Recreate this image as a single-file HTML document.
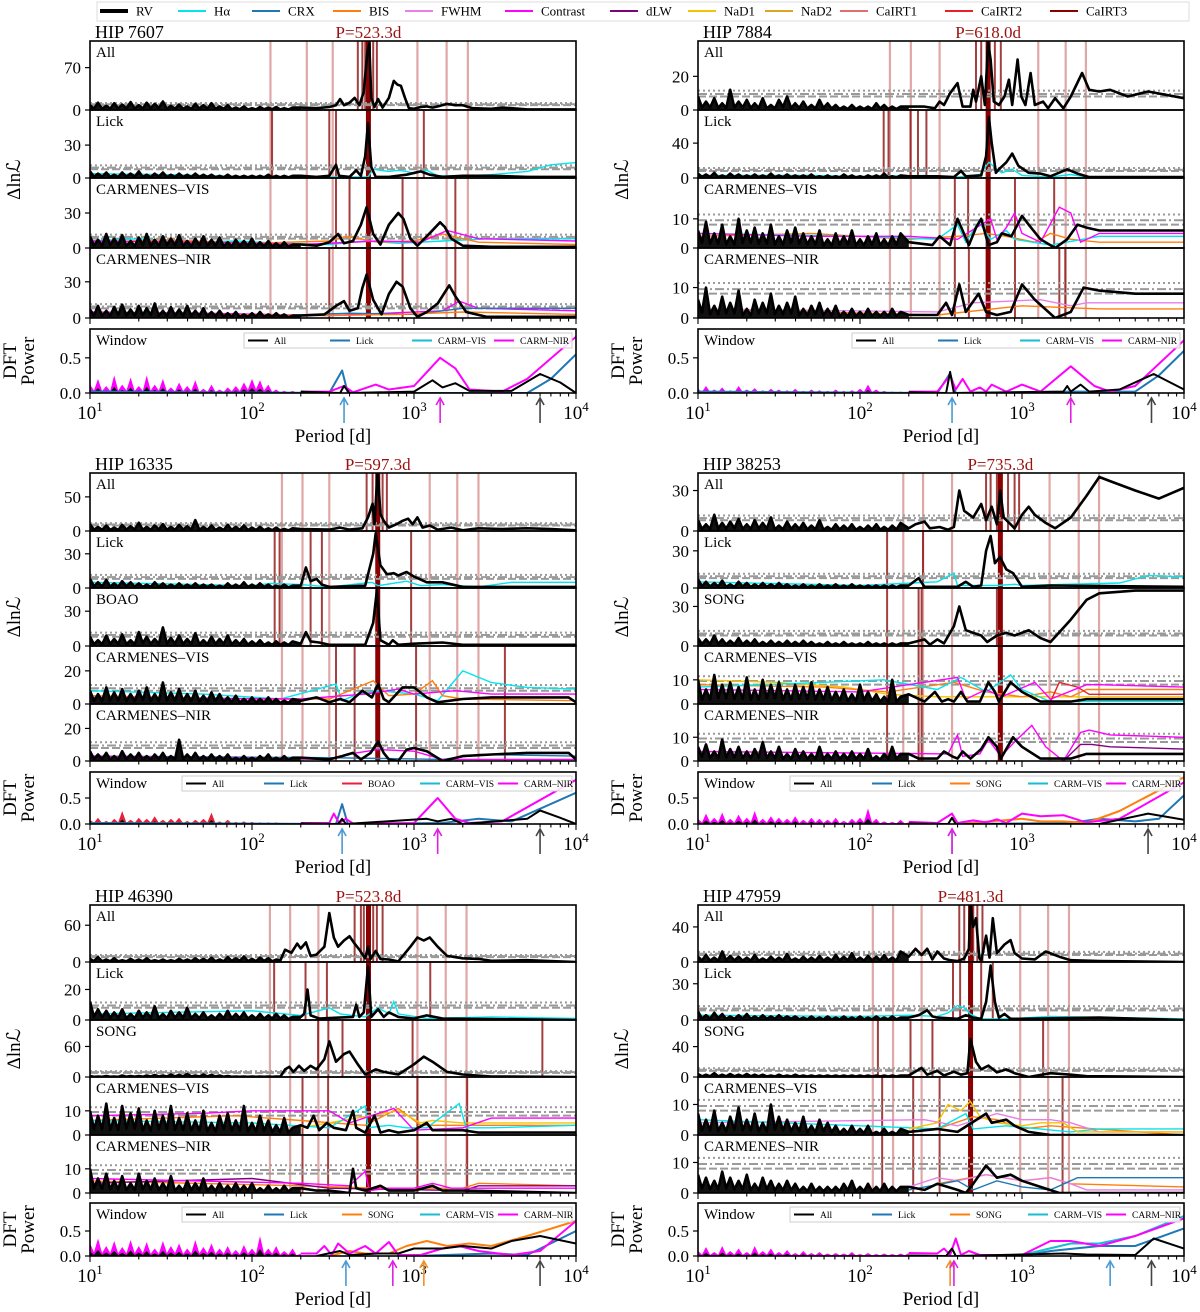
<!DOCTYPE html>
<html><head><meta charset="utf-8">
<style>
html,body{margin:0;padding:0;background:#fff;}
svg{display:block;font-family:"Liberation Serif",serif;}
</style></head>
<body>
<svg id="fig" xmlns="http://www.w3.org/2000/svg" width="1200" height="1312" viewBox="0 0 1200 1312">
<g id="legend"></g>
<g id="plots"></g>
</svg>
<script>
// ---------- shared noise period grid (days) ----------
const noiseGrid = [10,11.2,12.6,14.1,15.8,17.8,20,22.4,25.1,28.2,31.6,35.5,39.8,44.7,50.1,56.2,63.1,70.8,79.4,89.1,100,112,126,141,158,178,200];

// ---------- HIP 7607 ----------
const light7607 = [130,218,315,1050,1590,2150];
const n7607_all = [8,12,7,11,9,13,8,12,10,14,7,9,6,10,8,11,6,8,4,6,3,5,4,5,3,4,4];
const r7607_all = [[200,4],[250,3],[300,5],[330,8],[350,18],[370,8],[400,12],[430,20],[460,8],[490,30],[515,95],[530,110],[545,20],[570,5],[600,18],[640,4],[700,20],[750,48],[790,42],[830,40],[880,20],[930,3],[1000,2],[1100,5],[1200,6],[1300,4],[1450,7],[1600,10],[1800,8],[2000,8],[2300,3],[3000,2],[3500,4],[4000,3],[5000,1],[10000,1]];
const d7607_all = [450,480,500,560,590];
const n7607_lick = [6,4,5,3,5,4,6,3,4,5,3,4,3,4,3,3,2,3,2,2,2,2,3,2,2,2,2];
const r7607_lick = [[200,2],[250,1],[300,2],[330,12],[345,2],[400,1],[440,7],[470,2],[500,20],[520,50],[545,10],[580,1],[700,1],[900,3],[1100,6],[1250,3],[1500,1],[2000,2],[3000,2],[5000,1],[10000,1]];
const c7607_lick_ha = [[10,4],[30,3],[60,2],[100,1],[200,1],[400,1],[520,1],[560,8],[620,7],[700,6],[800,7],[900,6],[1000,4],[1200,7],[1400,2],[2000,2],[3000,3],[5000,6],[7000,12],[10000,14]];
const d7607_lick = [133,300,330,1150];
const n7607_cv = [10,7,12,8,11,6,9,12,7,10,8,11,6,8,10,7,9,5,7,6,8,5,6,4,5,3,4];
const r7607_cv = [[200,3],[250,2],[300,5],[340,12],[370,4],[420,6],[470,20],[510,35],[560,12],[620,3],[700,20],[800,30],[860,25],[950,8],[1050,2],[1200,10],[1450,22],[1550,18],[1700,8],[2000,2],[3000,1],[10000,1]];
const c7607_cv_ha = [[10,6],[20,8],[40,5],[80,6],[150,4],[300,3],[500,6],[800,4],[1500,6],[3000,8],[10000,8]];
const c7607_cv_bis = [[10,5],[30,7],[100,4],[300,6],[380,10],[600,5],[1000,6],[1500,12],[2500,5],[10000,3]];
const c7607_cv_con = [[10,6],[50,5],[200,3],[600,6],[1100,5],[1600,15],[2500,8],[10000,6]];
const d7607_cv = [330,400,850,1800];
const n7607_cn = [7,10,6,9,11,7,10,8,12,6,9,7,10,6,8,5,6,4,5,3,4,5,3,4,3,2,3];
const r7607_cn = [[200,2],[280,3],[330,10],[370,14],[400,6],[450,8],[480,25],[510,36],[560,15],[630,3],[700,20],[780,30],[850,26],[950,8],[1050,1],[1200,5],[1400,12],[1650,27],[1800,18],[2100,5],[2800,1],[10000,1]];
const c7607_cn_con = [[10,5],[50,4],[300,2],[1500,6],[1900,14],[2500,8],[10000,6]];
const c7607_cn_crx = [[10,3],[40,3],[150,2],[400,4],[1000,3],[2000,8],[10000,8]];
const c7607_cn_bis = [[10,4],[60,3],[300,2],[800,3],[2000,5],[10000,3]];
const d7607_cn = [300,400,850,1800];
const w7607_noise = [0.12,0.2,0.1,0.25,0.12,0.22,0.1,0.25,0.12,0.2,0.08,0.15,0.1,0.18,0.06,0.12,0.05,0.08,0.1,0.15,0.2,0.18,0.12,0.05,0.03,0.03,0.02];
const w7607_nir = [[200,0.02],[300,0.02],[370,0.1],[420,0.01],[580,0.12],[700,0.05],[1000,0.1],[1450,0.5],[1800,0.35],[2200,0.05],[3500,0.02],[5000,0.2],[10000,0.8]];
const w7607_lick = [[10,0.02],[300,0],[360,0.32],[390,0],[5000,0],[7000,0.2],[10000,0.55]];
const w7607_all = [[200,0.02],[350,0],[370,0.1],[400,0],[1000,0.02],[1300,0.18],[1500,0.08],[1800,0.14],[2200,0.03],[4000,0.03],[6000,0.27],[8000,0.15],[10000,0]];
const arrows7607 = [[370,'lick'],[1450,'nir'],[6000,'all']];

// ---------- HIP 7884 ----------
const light7884 = [153,206,310,1260,1860,2480];
const n7884_all = [8,5,7,4,12,5,6,4,7,3,6,8,4,5,3,6,4,3,2,3,2,2,4,3,2,2,1];
const r7884_all = [[200,2],[250,2],[290,1],[310,5],[330,3],[360,10],[400,16],[430,2],[480,2],[500,12],[520,5],[560,20],[590,3],[618,40],[640,30],[670,5],[720,3],[780,8],[830,18],[870,3],[940,30],[990,8],[1050,3],[1130,22],[1200,3],[1350,5],[1450,1],[1600,7],[1800,1],[2000,8],[2350,22],[2600,12],[3000,11],[3500,12],[4500,8],[6000,11],[10000,7]];
const d7884_all = [520,560,680,740];
const n7884_lick = [5,4,6,3,5,4,3,4,3,5,3,4,3,3,4,2,3,2,4,3,2,3,3,5,2,3,2];
const r7884_lick = [[200,2],[300,2],[380,1],[420,8],[450,2],[560,3],[600,25],[625,70],[650,40],[690,6],[720,10],[800,18],[870,28],[950,14],[1100,6],[1300,5],[1500,2],[1900,10],[2200,5],[2600,1],[10000,1]];
const c7884_lick_ha = [[10,3],[50,3],[100,2],[250,3],[400,1],[550,4],[625,18],[680,12],[750,6],[870,10],[1000,3],[1500,1],[2000,4],[2500,1],[10000,1]];
const d7884_lick = [140,150,205,228,257];
const n7884_cv = [6,9,5,8,4,10,6,7,5,8,4,6,7,5,4,6,3,5,4,6,3,4,5,3,4,5,3];
const r7884_cv = [[200,2],[280,1],[310,4],[360,1],[400,10],[430,6],[470,1],[520,7],[560,10],[620,1],[700,2],[750,5],[860,4],[1000,11],[1100,8],[1300,3],[1600,0],[1900,3],[2200,8],[2500,7],[3000,6],[10000,6]];
const c7884_cv_con = [[10,5],[50,4],[200,4],[400,3],[640,10],[700,3],[800,7],[900,12],[1000,5],[1300,2],[1700,14],[2000,12],[2300,2],[3000,5],[10000,5]];
const c7884_cv_ha = [[10,5],[100,4],[300,3],[400,8],[450,2],[540,9],[640,3],[800,6],[900,3],[1500,1],[3000,4],[10000,4]];
const c7884_cv_bis = [[10,4],[50,5],[200,3],[400,4],[600,5],[800,4],[1200,2],[1500,5],[2000,3],[3000,2],[10000,2]];
const d7884_cv = [385,465,905,1580];
const n7884_cn = [6,10,4,7,5,9,3,6,5,8,4,5,7,3,4,5,3,4,2,3,2,3,2,2,3,2,2];
const r7884_cn = [[200,1],[300,1],[340,5],[370,1],[410,11],[450,2],[540,8],[600,2],[700,1],[850,2],[1000,11],[1200,6],[1600,0],[2000,2],[2400,10],[3000,9],[5000,8],[10000,8]];
const c7884_cn_fwhm = [[10,3],[300,2],[500,5],[1300,6],[2000,4],[2500,5],[10000,5]];
const c7884_cn_bis = [[10,3],[300,1],[1000,4],[3000,3],[10000,3]];
const d7884_cn = [385,470,905,1700,1850];
const w7884_noise = [0.06,0.1,0.05,0.08,0.04,0.1,0.05,0.07,0.04,0.06,0.05,0.04,0.06,0.03,0.05,0.04,0.03,0.05,0.03,0.04,0.06,0.12,0.05,0.03,0.02,0.02,0.02];
const w7884_nir = [[200,0.02],[300,0.02],[360,0.25],[390,0.05],[430,0.2],[480,0.02],[550,0.08],[600,0.02],[650,0.12],[800,0.02],[1000,0.12],[1300,0.02],[2000,0.38],[2800,0.1],[3500,0.02],[5000,0.1],[10000,0.75]];
const w7884_lick = [[10,0.02],[300,0],[360,0.28],[390,0],[2000,0.02],[5000,0.02],[7000,0.25],[10000,0.6]];
const w7884_all = [[200,0.01],[340,0],[360,0.3],[380,0],[1800,0.02],[1900,0.1],[2000,0.02],[2300,0.12],[2600,0.02],[4000,0.05],[6500,0.27],[10000,0.05]];
const arrows7884 = [[370,'lick'],[2000,'nir'],[6300,'all']];

// ---------- HIP 16335 ----------
const light16335 = [153,205,300,1250,1850,2500];
const n16335_all = [10,6,8,5,9,7,12,6,8,10,6,9,7,16,6,8,5,9,6,8,5,6,4,5,3,4,3];
const r16335_all = [[200,3],[300,2],[350,5],[400,2],[480,4],[520,20],[555,40],[570,10],[597,90],[620,25],[650,15],[700,5],[780,10],[850,15],[920,18],[980,10],[1050,20],[1130,5],[1250,8],[1400,2],[1700,5],[2000,1],[2500,4],[3500,3],[5000,4],[7000,3],[10000,1]];
const d16335_all = [510,555,640,680];
const n16335_lick = [8,5,7,4,6,5,4,3,5,4,3,4,3,4,3,3,2,4,3,5,3,4,3,2,3,2,2];
const r16335_lick = [[200,2],[215,18],[230,6],[250,8],[270,3],[300,1],[500,2],[560,30],[580,48],[620,20],[680,12],[750,13],[800,11],[900,14],[1000,10],[1200,5],[1500,5],[2000,1],[10000,1]];
const c16335_lick_ha = [[10,5],[100,2],[130,4],[200,3],[300,1],[550,5],[600,2],[900,6],[1100,2],[1500,3],[2500,1],[4000,5],[10000,5]];
const d16335_lick = [138,148,230,270,960];
const n16335_boao = [8,5,9,6,10,5,12,8,6,16,7,9,6,11,5,8,6,9,5,6,4,5,3,4,3,4,2];
const r16335_boao = [[200,2],[215,12],[230,4],[260,3],[300,1],[500,1],[560,20],[590,48],[620,5],[700,1],[740,5],[800,1],[1000,2],[1500,3],[2000,1],[10000,1]];
const d16335_boao = [138,148,230,270,960];
const n16335_cv = [8,6,10,7,9,6,8,10,6,13,7,9,6,8,5,7,6,4,5,3,4,3,4,3,2,3,2];
const r16335_cv = [[200,2],[250,4],[300,1],[350,3],[400,1],[480,8],[550,4],[600,12],[650,3],[700,1],[850,10],[1000,10],[1200,4],[1400,1],[2000,3],[3000,4],[5000,4],[9000,4],[10000,1]];
const c16335_cv_ha = [[10,8],[50,6],[150,3],[330,12],[360,2],[450,6],[600,8],[1000,6],[1400,2],[2000,20],[3000,13],[5000,10],[10000,9]];
const c16335_cv_bis = [[10,5],[100,3],[300,3],[560,14],[700,5],[1000,6],[1300,14],[1500,5],[2000,3],[10000,2]];
const c16335_cv_con = [[10,4],[200,3],[500,6],[800,9],[1000,6],[1800,8],[3000,6],[10000,6]];
const d16335_cv = [330,430,1030,3640];
const n16335_cn = [6,4,5,3,6,4,5,3,4,5,3,13,4,5,3,4,3,4,2,3,2,3,4,2,3,2,2];
const r16335_cn = [[200,2],[300,1],[360,3],[420,5],[470,1],[540,5],[600,12],[650,5],[700,1],[800,0],[900,7],[1000,8],[1200,6],[1500,0],[2000,3],[3000,4],[5000,5],[9000,5],[10000,1]];
const c16335_cn_con = [[10,3],[300,1],[380,4],[600,7],[1000,6],[1500,1],[10000,1]];
const c16335_cn_crx = [[10,3],[300,2],[1500,1],[2500,4],[10000,3]];
const d16335_cn = [330,430,1030,3640];
const w16335_noise = [0.08,0.12,0.06,0.1,0.25,0.08,0.12,0.1,0.15,0.08,0.1,0.12,0.06,0.08,0.1,0.22,0.05,0.08,0.04,0.05,0.04,0.03,0.03,0.03,0.02,0.02,0.02];
const w16335_nir = [[200,0.02],[300,0.02],[320,0.2],[345,0.02],[380,0.1],[420,0.01],[1000,0.02],[1400,0.5],[1800,0.1],[2200,0.02],[3500,0.05],[10000,0.85]];
const w16335_lick = [[10,0.02],[330,0],[360,0.38],[390,0],[1500,0.02],[2500,0.1],[4000,0.05],[10000,0.6]];
const w16335_all = [[200,0.01],[340,0],[360,0.1],[380,0],[1200,0.1],[1400,0.05],[1700,0.1],[2000,0],[5000,0.1],[6000,0.26],[8000,0.12],[10000,0]];
const arrows16335 = [[360,'lick'],[1400,'nir'],[6000,'all']];

// ---------- HIP 38253 ----------
const light38253 = [185,245,370,1480,2240,2990];
const n38253_all = [8,5,12,6,7,9,5,8,6,10,4,7,5,6,4,8,3,5,4,5,3,4,5,3,4,6,3];
const r38253_all = [[200,2],[220,5],[250,7],[270,2],[310,3],[350,1],[380,3],[410,30],[440,15],[500,10],[560,20],[600,8],[650,18],[700,5],[735,30],[770,10],[850,5],[900,2],[1000,12],[1100,18],[1200,12],[1400,6],[1600,2],[2000,10],[2500,26],[3000,40],[3500,37],[5000,30],[7000,24],[10000,32]];
const d38253_all = [600,640,700,820,900,960];
const n38253_lick = [7,5,4,6,3,5,4,3,4,3,4,3,2,3,2,3,2,3,2,3,2,2,2,2,2,2,2];
const r38253_lick = [[200,2],[230,8],[250,1],[300,1],[400,1],[450,5],[500,1],[560,2],[600,30],[640,42],[680,20],[730,25],[800,15],[880,12],[1000,1],[1500,2],[10000,1]];
const c38253_lick_ha = [[10,5],[100,2],[300,5],[380,12],[400,2],[700,2],[900,3],[1000,2],[4000,4],[6000,10],[10000,9]];
const d38253_lick = [147,245];
const n38253_song = [6,5,8,5,4,6,4,5,3,4,3,4,3,4,3,2,3,2,3,2,2,3,2,2,2,2,2];
const r38253_song = [[200,2],[250,5],[270,1],[300,5],[330,2],[380,15],[410,30],[450,12],[500,10],[560,8],[610,3],[700,8],[800,10],[900,8],[1100,12],[1300,6],[1500,3],[2000,20],[2500,35],[3000,40],[5000,42],[10000,42]];
const d38253_song = [147,230,240,700];
const n38253_cv = [10,6,12,8,9,7,11,6,10,8,9,6,8,7,9,6,7,5,6,4,8,5,4,3,10,3,2];
const r38253_cv = [[200,4],[250,1],[290,5],[320,1],[350,2],[380,1],[420,5],[460,1],[550,1],[620,9],[680,5],[720,1],[850,9],[1000,5],[1300,1],[2000,1],[2500,2],[3000,2],[10000,2]];
const c38253_cv_con = [[10,6],[100,5],[400,11],[450,2],[600,6],[750,3],[950,6],[1200,9],[1500,2],[2500,8],[3000,8],[10000,7]];
const c38253_cv_ha = [[10,7],[60,9],[140,10],[300,6],[420,11],[600,5],[850,12],[1000,6],[1500,1],[10000,1]];
const c38253_cv_bis = [[10,8],[60,7],[150,5],[380,9],[600,5],[1000,3],[1500,5],[2000,3],[2500,6],[10000,6]];
const c38253_cv_nad1 = [[10,10],[30,9],[80,7],[150,4],[300,3],[10000,3]];
const c38253_cv_irt2 = [[1500,1],[1700,9],[2200,7],[2600,4],[10000,4]];
const d38253_cv = [147,230,240,720];
const n38253_cn = [6,7,4,9,5,6,4,5,8,4,6,3,5,4,3,6,3,4,3,4,3,5,2,3,6,3,2];
const r38253_cn = [[200,3],[230,1],[300,1],[330,4],[370,2],[400,1],[430,4],[480,1],[560,5],[620,10],[700,6],[740,1],[880,10],[1000,6],[1300,1],[2000,1],[2500,3],[10000,3]];
const c38253_cn_con = [[10,4],[350,3],[400,11],[430,2],[550,3],[620,9],[740,2],[900,8],[1150,15],[1400,6],[1800,0],[2300,12],[2600,13],[3500,11],[10000,10]];
const c38253_cn_dlw = [[1800,0],[2300,7],[2700,7],[3500,6],[10000,5]];
const d38253_cn = [147,230,240,720];
const w38253_noise = [0.1,0.2,0.12,0.22,0.1,0.18,0.12,0.25,0.1,0.15,0.12,0.1,0.15,0.08,0.12,0.1,0.08,0.12,0.06,0.1,0.12,0.3,0.1,0.05,0.04,0.08,0.03];
const w38253_nir = [[200,0.04],[300,0.02],[370,0.2],[400,0.02],[500,0.07],[600,0.03],[700,0.09],[800,0.02],[1000,0.2],[1300,0.15],[1800,0.17],[2500,0.03],[4000,0.1],[10000,0.8]];
const w38253_song = [[400,0],[1000,0.1],[1300,0.05],[1800,0.05],[2500,0.02],[4000,0.25],[10000,0.9]];
const w38253_lick = [[400,0],[2000,0.02],[3000,0.1],[5000,0.05],[7000,0.1],[10000,0.55]];
const w38253_all = [[200,0.01],[350,0],[370,0.12],[390,0],[3000,0],[6000,0.2],[10000,0.08]];
const arrows38253 = [[370,'lick'],[370,'nir'],[6000,'all']];

// ---------- HIP 46390 ----------
const light46390 = [129,172,257,1050,1570,2110];
const n46390_all = [5,8,4,6,3,5,4,6,3,4,3,5,4,6,5,7,4,8,6,9,5,7,6,4,5,3,3];
const r46390_all = [[150,3],[160,20],[175,15],[190,30],[200,22],[215,32],[230,10],[250,12],[280,25],[300,80],[320,40],[340,25],[370,35],[400,42],[430,30],[460,20],[500,6],[520,25],[540,5],[580,18],[620,5],[700,4],[800,1],[950,25],[1050,40],[1150,35],[1250,40],[1400,25],[1600,10],[2000,6],[2500,5],[3000,2],[5000,3],[10000,0]];
const d46390_all = [430,470,490,560,590,640];
const n46390_lick = [12,7,6,5,7,4,6,5,9,4,6,5,8,4,5,3,4,6,4,5,3,4,3,4,3,2,2];
const r46390_lick = [[200,2],[210,4],[220,20],[230,3],[260,1],[420,2],[440,10],[460,2],[490,5],[520,35],[545,2],[600,7],[650,2],[700,5],[800,2],[1000,1],[1200,3],[1500,1],[10000,0]];
const c46390_lick_ha = [[10,4],[100,6],[200,3],[300,8],[350,4],[500,2],[600,8],[700,4],[750,12],[800,4],[1200,1],[3000,2],[10000,1]];
const d46390_lick = [137,214,290,1260];
const n46390_song = [2,1,2,1,3,2,2,3,4,3,5,4,6,3,5,4,3,2,1,1,1,1,1,1,1,1,1];
const r46390_song = [[150,1],[160,15],[170,20],[180,10],[195,22],[210,12],[230,22],[250,15],[280,35],[300,70],[330,30],[370,45],[400,50],[450,25],[500,5],[580,15],[650,10],[800,5],[1000,25],[1150,40],[1300,30],[1600,10],[2000,5],[3000,1],[10000,0]];
const d46390_song = [256,296,362,980,6200];
const n46390_cv = [10,8,13,7,12,9,11,6,10,8,12,7,9,6,10,5,8,9,6,12,5,8,6,4,7,3,5];
const r46390_cv = [[200,4],[220,3],[240,8],[260,2],[290,5],[320,3],[380,2],[420,10],[440,3],[500,1],[570,8],[620,1],[700,2],[800,1],[1000,2],[1200,5],[1300,2],[1500,2],[2000,2],[2500,1],[10000,1]];
const c46390_cv_ha = [[10,6],[100,5],[300,3],[500,12],[520,3],[700,4],[900,3],[1200,3],[1900,13],[2100,3],[3000,3],[10000,4]];
const c46390_cv_con = [[10,8],[50,9],[100,10],[300,10],[400,5],[750,11],[1000,2],[2000,3],[3000,7],[10000,7]];
const c46390_cv_nad1 = [[200,3],[800,10],[1100,5],[1300,6],[2000,5],[3000,5],[10000,5]];
const c46390_cv_bis = [[10,6],[80,8],[200,6],[500,4],[800,11],[1100,4],[10000,4]];
const d46390_cv = [205,295,1050,2130];
const n46390_cn = [10,6,8,5,7,4,8,5,6,4,7,3,5,4,6,3,4,3,4,3,4,2,3,2,3,2,2];
const r46390_cn = [[200,2],[250,1],[300,1],[400,0],[420,10],[440,2],[500,1],[620,3],[700,1],[1000,1],[1300,3],[1500,1],[2000,1],[10000,0]];
const c46390_cn_con = [[10,6],[200,4],[400,3],[500,9],[530,1],[700,2],[1000,2],[1300,4],[1700,2],[10000,2]];
const c46390_cn_bis = [[10,5],[200,3],[600,2],[1000,2],[2000,2],[2500,4],[10000,3]];
const c46390_cn_dlw = [[10,4],[100,6],[300,2],[2000,1],[2500,3],[10000,3]];
const d46390_cn = [205,295,1050,2130];
const w46390_noise = [0.25,0.35,0.2,0.3,0.18,0.32,0.2,0.28,0.15,0.3,0.2,0.25,0.15,0.32,0.18,0.25,0.15,0.2,0.12,0.22,0.15,0.4,0.15,0.2,0.1,0.15,0.05];
const w46390_nir = [[200,0.05],[250,0.05],[280,0.2],[310,0.02],[340,0.25],[400,0.05],[500,0.2],[580,0.05],[700,0.28],[800,0.02],[1100,0.02],[1500,0.15],[1900,0.2],[2500,0.1],[4000,0.02],[6000,0.1],[10000,0.7]];
const w46390_song = [[300,0],[400,0.1],[500,0.05],[700,0.05],[900,0.2],[1200,0.3],[1600,0.2],[2200,0.25],[3000,0.2],[5000,0.4],[10000,0.7]];
const w46390_lick = [[1000,0],[3000,0.05],[5000,0.02],[10000,0.5]];
const w46390_all = [[250,0],[350,0.1],[400,0.02],[600,0.05],[800,0.05],[1000,0.15],[1500,0.15],[2000,0.2],[3000,0.15],[4000,0.3],[6000,0.4],[10000,0.25]];
const arrows46390 = [[380,'lick'],[740,'nir'],[1150,'song'],[6000,'all']];

// ---------- HIP 47959 ----------
const light47959 = [120,160,240,975,1450,1950];
const n47959_all = [6,8,5,12,7,6,5,8,4,6,5,9,4,6,5,7,5,8,6,10,5,7,6,8,5,12,7];
const r47959_all = [[200,6],[220,15],[240,8],[260,15],[280,3],[300,12],[330,4],[360,2],[400,1],[440,4],[470,15],[481,65],[500,40],[520,50],[545,5],[560,1],[600,30],[630,5],[660,50],[700,10],[780,20],[850,25],[900,10],[1000,4],[1200,3],[1400,12],[1700,6],[2000,2],[3000,1],[10000,0]];
const d47959_all = [410,440,500,530,570];
const n47959_lick = [7,4,6,5,3,4,5,3,4,3,4,3,3,2,3,2,3,2,3,2,3,2,3,2,3,2,2];
const r47959_lick = [[200,2],[230,4],[260,8],[280,3],[300,2],[400,1],[450,4],[500,2],[560,1],[600,15],[640,45],[680,15],[720,2],[780,5],[850,1],[1000,1],[3000,2],[10000,0]];
const c47959_lick_ha = [[10,4],[100,3],[200,4],[300,3],[350,6],[400,12],[440,10],[480,5],[550,1],[800,1],[1500,3],[10000,1]];
const d47959_lick = [375,415,560,660];
const n47959_song = [4,3,5,3,4,3,4,3,3,2,3,2,3,2,2,2,2,2,2,2,2,2,2,2,2,2,3];
const r47959_song = [[200,2],[240,12],[260,3],[300,8],[330,2],[380,7],[420,3],[460,5],[480,50],[520,20],[560,10],[620,15],[700,6],[800,10],[900,5],[1100,0],[1500,5],[2000,3],[2500,1],[10000,0]];
const d47959_song = [129,205,280,1350];
const n47959_cv = [7,5,8,4,6,9,5,7,4,10,6,5,4,6,3,5,4,3,2,3,2,3,1,2,1,2,2];
const r47959_cv = [[200,1],[300,2],[400,1],[600,7],[650,4],[800,5],[900,3],[1100,1],[1500,0],[10000,0]];
const c47959_cv_nad1 = [[200,2],[300,4],[350,10],[420,8],[480,11],[550,6],[700,4],[1000,3],[1300,4],[1800,4],[2200,1],[10000,1]];
const c47959_cv_ha = [[10,5],[100,3],[300,2],[450,7],[500,2],[800,3],[2000,1],[3000,2],[10000,2]];
const c47959_cv_fwhm = [[10,4],[250,5],[400,3],[700,7],[1000,5],[1500,5],[2000,4],[3000,1],[10000,1]];
const c47959_cv_bis = [[300,2],[500,6],[700,5],[1000,2],[1500,3],[10000,0]];
const d47959_cv = [137,213,310,1780];
const n47959_cn = [6,5,4,7,5,4,6,3,5,4,3,4,3,2,3,2,2,2,3,4,2,3,2,3,2,2,3];
const r47959_cn = [[200,2],[250,1],[300,3],[400,1],[450,0],[500,3],[600,9],[700,5],[850,6],[1000,4],[1300,2],[1700,0],[10000,0]];
const c47959_cn_crx = [[200,1],[400,4],[500,1],[700,4],[1000,2],[1500,1],[2200,5],[3000,5],[10000,5]];
const c47959_cn_fwhm = [[200,2],[300,5],[400,4],[600,6],[1000,4],[1500,5],[2000,3],[2500,1],[10000,1]];
const c47959_cn_bis = [[300,3],[600,6],[1000,4],[1500,5],[2000,3],[10000,2]];
const d47959_cn = [137,213,310,1780];
const w47959_noise = [0.1,0.18,0.08,0.2,0.1,0.15,0.08,0.2,0.1,0.15,0.08,0.12,0.06,0.1,0.06,0.08,0.05,0.06,0.05,0.08,0.04,0.06,0.04,0.05,0.04,0.05,0.06];
const w47959_nir = [[200,0.06],[300,0.05],[330,0.15],[360,0.02],[390,0.35],[420,0.02],[470,0.1],[550,0.02],[1000,0.02],[1500,0.3],[2000,0.3],[3000,0.2],[5000,0.4],[10000,0.75]];
const w47959_vis = [[1000,0.02],[2000,0.25],[3000,0.25],[5000,0.4],[10000,0.8]];
const w47959_lick = [[1000,0],[1500,0.1],[3000,0.2],[5000,0.2],[10000,0.55]];
const w47959_all = [[200,0.01],[340,0],[370,0.15],[390,0],[1800,0.05],[2500,0.03],[5000,0.02],[6500,0.35],[10000,0.15]];
const arrows47959 = [[360,'song'],[380,'nir'],[3500,'lick'],[6300,'all']];

// ---------- colours ----------
const COL = {rv:'#000',ha:'#00e5ee',crx:'#1f77b4',bis:'#ff7f0e',fwhm:'#e87ee8',con:'#ff00ff',dlw:'#800080',nad1:'#f5c400',nad2:'#daa520',irt1:'#e07070',irt2:'#e8202a',irt3:'#8b0000',
  all:'#000',lick:'#1f77b4',boao:'#e8203a',song:'#ff7f0e',vis:'#17becf',nir:'#ff00ff'};
const ARROWCOL = {all:'#444',lick:'#4a9ad4',nir:'#e020e0',song:'#f0902a'};

const legendLabels = ['RV','H\u03b1','CRX','BIS','FWHM','Contrast','dLW','NaD1','NaD2','CaIRT1','CaIRT2','CaIRT3'];
const legendKeys = ['rv','ha','crx','bis','fwhm','con','dlw','nad1','nad2','irt1','irt2','irt3'];
const legendX = [100,178,252,333,405,505,610,688,765,840,945,1050];

// ---------- layout ----------
const L4 = {subs:[41,110,178,248,318], win:[329,393]};
const L5a = {subs:[473,531,588,646,704,761], win:[772,824]};
const L5b = {subs:[905,962,1020,1077,1135,1193], win:[1203,1256]};
const TH = [8,9.5,11.5];

const panels = [
 {title:'HIP 7607', P:523.3, x0:90, lay:L4, light:light7607, arrows:arrows7607,
  subs:[{name:'All',ymax:114,tick:70,noise:n7607_all,rv:r7607_all,dark:d7607_all,extra:[]},
        {name:'Lick',ymax:62,tick:30,noise:n7607_lick,rv:r7607_lick,dark:d7607_lick,extra:[['ha',c7607_lick_ha]]},
        {name:'CARMENES\u2013VIS',ymax:60,tick:30,noise:n7607_cv,rv:r7607_cv,dark:d7607_cv,extra:[['ha',c7607_cv_ha],['bis',c7607_cv_bis],['con',c7607_cv_con]]},
        {name:'CARMENES\u2013NIR',ymax:58,tick:30,noise:n7607_cn,rv:r7607_cn,dark:d7607_cn,extra:[['con',c7607_cn_con],['crx',c7607_cn_crx],['bis',c7607_cn_bis]]}],
  win:{ymax:0.91,noise:w7607_noise,noiseCol:'nir',lines:[['lick',w7607_lick],['nir',w7607_nir],['all',w7607_all]],leg:[['all','All'],['lick','Lick'],['vis','CARM\u2013VIS'],['nir','CARM\u2013NIR']]}},
 {title:'HIP 7884', P:618.0, x0:698, lay:L4, light:light7884, arrows:arrows7884,
  subs:[{name:'All',ymax:41,tick:20,noise:n7884_all,rv:r7884_all,dark:d7884_all,extra:[]},
        {name:'Lick',ymax:78,tick:40,noise:n7884_lick,rv:r7884_lick,dark:d7884_lick,extra:[['ha',c7884_lick_ha]]},
        {name:'CARMENES\u2013VIS',ymax:24,tick:10,noise:n7884_cv,rv:r7884_cv,dark:d7884_cv,extra:[['bis',c7884_cv_bis],['ha',c7884_cv_ha],['con',c7884_cv_con]]},
        {name:'CARMENES\u2013NIR',ymax:23,tick:10,noise:n7884_cn,rv:r7884_cn,dark:d7884_cn,extra:[['bis',c7884_cn_bis],['fwhm',c7884_cn_fwhm]]}],
  win:{ymax:0.91,noise:w7884_noise,noiseCol:'nir',lines:[['lick',w7884_lick],['nir',w7884_nir],['all',w7884_all]],leg:[['all','All'],['lick','Lick'],['vis','CARM\u2013VIS'],['nir','CARM\u2013NIR']]}},
 {title:'HIP 16335', P:597.3, x0:90, lay:L5a, light:light16335, arrows:arrows16335,
  subs:[{name:'All',ymax:85,tick:50,noise:n16335_all,rv:r16335_all,dark:d16335_all,extra:[]},
        {name:'Lick',ymax:50,tick:30,noise:n16335_lick,rv:r16335_lick,dark:d16335_lick,extra:[['ha',c16335_lick_ha]]},
        {name:'BOAO',ymax:50,tick:30,noise:n16335_boao,rv:r16335_boao,dark:d16335_boao,extra:[]},
        {name:'CARMENES\u2013VIS',ymax:35,tick:20,noise:n16335_cv,rv:r16335_cv,dark:d16335_cv,extra:[['ha',c16335_cv_ha],['bis',c16335_cv_bis],['con',c16335_cv_con]]},
        {name:'CARMENES\u2013NIR',ymax:35,tick:20,noise:n16335_cn,rv:r16335_cn,dark:d16335_cn,extra:[['crx',c16335_cn_crx],['con',c16335_cn_con]]}],
  win:{ymax:1.0,noise:w16335_noise,noiseCol:'boao',lines:[['lick',w16335_lick],['nir',w16335_nir],['all',w16335_all]],leg:[['all','All'],['lick','Lick'],['boao','BOAO'],['vis','CARM\u2013VIS'],['nir','CARM\u2013NIR']]}},
 {title:'HIP 38253', P:735.3, x0:698, lay:L5a, light:light38253, arrows:arrows38253,
  subs:[{name:'All',ymax:43,tick:30,noise:n38253_all,rv:r38253_all,dark:d38253_all,extra:[]},
        {name:'Lick',ymax:46,tick:30,noise:n38253_lick,rv:r38253_lick,dark:d38253_lick,extra:[['ha',c38253_lick_ha]]},
        {name:'SONG',ymax:44,tick:30,noise:n38253_song,rv:r38253_song,dark:d38253_song,extra:[]},
        {name:'CARMENES\u2013VIS',ymax:24,tick:10,noise:n38253_cv,rv:r38253_cv,dark:d38253_cv,extra:[['nad1',c38253_cv_nad1],['bis',c38253_cv_bis],['ha',c38253_cv_ha],['irt2',c38253_cv_irt2],['con',c38253_cv_con]]},
        {name:'CARMENES\u2013NIR',ymax:24,tick:10,noise:n38253_cn,rv:r38253_cn,dark:d38253_cn,extra:[['dlw',c38253_cn_dlw],['con',c38253_cn_con]]}],
  win:{ymax:1.0,noise:w38253_noise,noiseCol:'nir',lines:[['lick',w38253_lick],['song',w38253_song],['nir',w38253_nir],['all',w38253_all]],leg:[['all','All'],['lick','Lick'],['song','SONG'],['vis','CARM\u2013VIS'],['nir','CARM\u2013NIR']]}},
 {title:'HIP 46390', P:523.8, x0:90, lay:L5b, light:light46390, arrows:arrows46390,
  subs:[{name:'All',ymax:93,tick:60,noise:n46390_all,rv:r46390_all,dark:d46390_all,extra:[]},
        {name:'Lick',ymax:38,tick:20,noise:n46390_lick,rv:r46390_lick,dark:d46390_lick,extra:[['ha',c46390_lick_ha]]},
        {name:'SONG',ymax:112,tick:60,noise:n46390_song,rv:r46390_song,dark:d46390_song,extra:[]},
        {name:'CARMENES\u2013VIS',ymax:24,tick:10,noise:n46390_cv,rv:r46390_cv,dark:d46390_cv,extra:[['bis',c46390_cv_bis],['nad1',c46390_cv_nad1],['ha',c46390_cv_ha],['con',c46390_cv_con]]},
        {name:'CARMENES\u2013NIR',ymax:24,tick:10,noise:n46390_cn,rv:r46390_cn,dark:d46390_cn,extra:[['bis',c46390_cn_bis],['dlw',c46390_cn_dlw],['con',c46390_cn_con]]}],
  win:{ymax:1.06,noise:w46390_noise,noiseCol:'nir',lines:[['lick',w46390_lick],['song',w46390_song],['nir',w46390_nir],['all',w46390_all]],leg:[['all','All'],['lick','Lick'],['song','SONG'],['vis','CARM\u2013VIS'],['nir','CARM\u2013NIR']]}},
 {title:'HIP 47959', P:481.3, x0:698, lay:L5b, light:light47959, arrows:arrows47959,
  subs:[{name:'All',ymax:65,tick:40,noise:n47959_all,rv:r47959_all,dark:d47959_all,extra:[]},
        {name:'Lick',ymax:48,tick:30,noise:n47959_lick,rv:r47959_lick,dark:d47959_lick,extra:[['ha',c47959_lick_ha]]},
        {name:'SONG',ymax:75,tick:40,noise:n47959_song,rv:r47959_song,dark:d47959_song,extra:[]},
        {name:'CARMENES\u2013VIS',ymax:19,tick:10,noise:n47959_cv,rv:r47959_cv,dark:d47959_cv,extra:[['bis',c47959_cv_bis],['fwhm',c47959_cv_fwhm],['ha',c47959_cv_ha],['nad1',c47959_cv_nad1]]},
        {name:'CARMENES\u2013NIR',ymax:19,tick:10,noise:n47959_cn,rv:r47959_cn,dark:d47959_cn,extra:[['bis',c47959_cn_bis],['fwhm',c47959_cn_fwhm],['crx',c47959_cn_crx]]}],
  win:{ymax:1.06,noise:w47959_noise,noiseCol:'nir',lines:[['lick',w47959_lick],['vis',w47959_vis],['nir',w47959_nir],['all',w47959_all]],leg:[['all','All'],['lick','Lick'],['song','SONG'],['vis','CARM\u2013VIS'],['nir','CARM\u2013NIR']]}}
];

// ---------- drawing ----------
const NS='http://www.w3.org/2000/svg';
const W=486, DEC=W/3;
function mk(tag,attrs,parent){const e=document.createElementNS(NS,tag);for(const k in attrs)e.setAttribute(k,attrs[k]);if(parent)parent.appendChild(e);return e;}
function txt(parent,x,y,s,size,anchor,fill,name){const t=mk('text',{x:x,y:y,'font-size':size,'text-anchor':anchor||'start',fill:fill||'#000'},parent);t.textContent=s;
  
  return t;}
// insert dips between noise samples so the noise looks spiky
function spiky(pts){const out=[];for(let i=0;i<pts.length;i++){out.push(pts[i]);if(i<pts.length-1){const pm=Math.sqrt(pts[i][0]*pts[i+1][0]);out.push([pm,Math.min(pts[i][1],pts[i+1][1])*0.3]);}}return out;}
let clipId=0;

// top legend
const lg=document.getElementById('legend');
const lgBox=mk('rect',{x:97,y:2,width:1092,height:19,fill:'#fff',stroke:'#ddd','stroke-width':1},lg);


legendKeys.forEach((k,i)=>{
  const g=mk('g',{},lg);
  
  
  mk('line',{x1:legendX[i],x2:legendX[i]+28,y1:11,y2:11,stroke:COL[k],'stroke-width':k==='rv'?4:2},g);
  txt(g,legendX[i]+36,15.5,legendLabels[i],13,'start','#000','legend-label');
});

const root=document.getElementById('plots');
panels.forEach((pn,pi)=>{
  const g=mk('g',{},root);
  
  
  const x0=pn.x0, X=p=>x0+(Math.log10(p)-1)*DEC;
  const s=pn.lay.subs, top=s[0];
  txt(g,x0+5,top-3,pn.title,18,'start','#000','star-title');
  txt(g,X(pn.P),top-3,'P='+pn.P.toFixed(1)+'d',17,'middle','#9b1010','period-label');
  const nsub=pn.subs.length;
  pn.subs.forEach((sb,si)=>{
    const y0=s[si], y1=s[si+1], h=y1-y0;
    const Y=v=>y1-v/sb.ymax*h;
    const sg=mk('g',{},g);
    
    
    const cid='c'+(clipId++);
    const cp=mk('clipPath',{id:cid},sg); mk('rect',{x:x0,y:y0,width:W,height:h},cp);
    const cg=mk('g',{'clip-path':'url(#'+cid+')'},sg);
    pn.light.forEach(p=>{const l=mk('line',{x1:X(p),x2:X(p),y1:y0,y2:y1,stroke:'#b22222','stroke-opacity':0.4,'stroke-width':2.2},cg);
      
      });
    sb.dark.forEach(p=>{const l=mk('line',{x1:X(p),x2:X(p),y1:y0,y2:y1,stroke:'#8b1010','stroke-opacity':0.8,'stroke-width':2},cg);
      
      });
    const pl=mk('line',{x1:X(pn.P),x2:X(pn.P),y1:y0,y2:y1,stroke:'#8b0000','stroke-width':5},cg);
    
    
    [['8,3',TH[0]],['9,3,2,3',TH[1]],['2,3',TH[2]]].forEach(([d,v])=>{
      const l=mk('line',{x1:x0,x2:x0+W,y1:Y(v),y2:Y(v),stroke:'#9a9a9a','stroke-width':2,'stroke-dasharray':d},cg);
      
      });
    sb.extra.forEach(([k,arr])=>{
      const pts=arr.map(([p,v])=>X(p).toFixed(1)+','+Y(v).toFixed(1)).join(' ');
      const l=mk('polyline',{points:pts,fill:'none',stroke:COL[k],'stroke-width':1.4},cg);
      
      
    });
    const nPts=spiky(noiseGrid.map((p,i)=>[p,sb.noise[i]]).filter(q=>q[0]<sb.rv[0][0]));
    const all=nPts.concat(sb.rv);
    const fillPts=nPts.concat([sb.rv[0]]);
    const fp=fillPts.map(([p,v])=>X(p).toFixed(1)+','+Y(v).toFixed(1)).join(' ')+' '+X(sb.rv[0][0]).toFixed(1)+','+y1+' '+x0+','+y1;
    const nf=mk('polygon',{points:fp,fill:'#111'},cg);
    
    
    const rl=mk('polyline',{points:all.map(([p,v])=>X(p).toFixed(1)+','+Y(v).toFixed(1)).join(' '),fill:'none',stroke:'#000','stroke-width':2.6,'stroke-linejoin':'round'},cg);
    
    
    const fr=mk('rect',{x:x0,y:y0,width:W,height:h,fill:'none',stroke:'#000','stroke-width':1.6},sg);
    
    
    txt(sg,x0+6,y0+16,sb.name,15,'start','#000','subpanel-label');
    [[sb.tick,Y(sb.tick)],[0,y1]].forEach(([v,y])=>{
      mk('line',{x1:x0-5,x2:x0,y1:y,y2:y,stroke:'#000','stroke-width':1.2},sg);
      txt(sg,x0-9,y+6,String(v),17,'end','#000','y-tick-label');
    });
  });
  const lastB=s[nsub];
  const [wy0,wy1]=pn.lay.win, wh=wy1-wy0, wv=pn.win;
  const WY=v=>wy1-v/wv.ymax*wh;
  const wg=mk('g',{},g);
  
  
  const cid='c'+(clipId++);
  const cp=mk('clipPath',{id:cid},wg); mk('rect',{x:x0,y:wy0,width:W,height:wh},cp);
  const wcg=mk('g',{'clip-path':'url(#'+cid+')'},wg);
  const wpts=spiky(noiseGrid.map((p,i)=>[p,wv.noise[i]]));
  const wn=wpts.map(([p,v])=>X(p).toFixed(1)+','+WY(v).toFixed(1)).join(' ');
  const wnp=mk('polygon',{points:wn+' '+X(200).toFixed(1)+','+wy1+' '+x0+','+wy1,fill:COL[wv.noiseCol]},wcg);
  
  
  const wbn=mk('polygon',{points:wpts.map(([p,v])=>X(p).toFixed(1)+','+WY(v*0.35).toFixed(1)).join(' ')+' '+X(200).toFixed(1)+','+wy1+' '+x0+','+wy1,fill:'#111'},wcg);
  
  
  wv.lines.forEach(([k,arr])=>{
    const l=mk('polyline',{points:arr.map(([p,v])=>X(p).toFixed(1)+','+WY(v).toFixed(1)).join(' '),fill:'none',stroke:COL[k],'stroke-width':2,'stroke-linejoin':'round'},wcg);
    
    
  });
  const wf=mk('rect',{x:x0,y:wy0,width:W,height:wh,fill:'none',stroke:'#000','stroke-width':1.6},wg);
  
  
  txt(wg,x0+6,wy0+16,'Window',15,'start','#000','window-label');
  [[0.5,'0.5'],[0,'0.0']].forEach(([v,l])=>{mk('line',{x1:x0-5,x2:x0,y1:WY(v),y2:WY(v),stroke:'#000','stroke-width':1.2},wg);txt(wg,x0-9,WY(v)+6,l,17,'end','#000','y-tick-label');});
  const ne=wv.leg.length, ew=ne===4?82:78, lw=ew*ne, lx=x0+W-4-lw;
  const lgg=mk('g',{},wg);
  
  
  mk('rect',{x:lx,y:wy0+4,width:lw,height:15,fill:'#fff','fill-opacity':0.85,stroke:'#ccc'},lgg);
  wv.leg.forEach(([k,l],i)=>{const ex=lx+4+i*ew;mk('line',{x1:ex,x2:ex+20,y1:wy0+11.5,y2:wy0+11.5,stroke:COL[k],'stroke-width':2},lgg);txt(lgg,ex+26,wy0+15,l,9.5,'start','#000','window-legend-label');});
  [lastB,wy1].forEach(yb=>{
    for(let d=1;d<4;d++)for(let m=1;m<10;m++){const p=m*Math.pow(10,d);const x=X(p);mk('line',{x1:x,x2:x,y1:yb,y2:yb+(m===1?6:3.5),stroke:'#000','stroke-width':1.1},g);}
    mk('line',{x1:X(10000),x2:X(10000),y1:yb,y2:yb+6,stroke:'#000','stroke-width':1.1},g);
  });
  for(let d=1;d<=4;d++){const t=txt(g,X(Math.pow(10,d)),wy1+26,'10',19,'middle','#000','x-tick-label');const su=mk('tspan',{'font-size':13,dy:-8},t);su.textContent=String(d);}
  txt(g,x0+W/2,wy1+49,'Period [d]',19,'middle','#000','x-axis-title');
  pn.arrows.forEach(([p,k])=>{const x=X(p),c=ARROWCOL[k];const a=mk('g',{},g);
    
    
    mk('line',{x1:x,x2:x,y1:wy1+30,y2:wy1+6,stroke:c,'stroke-width':1.6},a);
    mk('polyline',{points:(x-4)+','+(wy1+12)+' '+x+','+(wy1+5)+' '+(x+4)+','+(wy1+12),fill:'none',stroke:c,'stroke-width':1.6},a);});
  const ym=(s[0]+s[nsub])/2, lx2=x0-72;
  const t1=txt(g,0,0,'\u0394ln\u2112',19,'middle','#000','y-axis-title');t1.setAttribute('transform','translate('+(lx2+2)+','+ym+') rotate(-90)');
  const wm=(wy0+wy1)/2;
  const t2=txt(g,0,0,'DFT',19,'middle','#000','window-y-title');t2.setAttribute('transform','translate('+(lx2-2)+','+wm+') rotate(-90)');
  const t3=txt(g,0,0,'Power',19,'middle','#000','window-y-title');t3.setAttribute('transform','translate('+(lx2+16)+','+wm+') rotate(-90)');
});
</script>
</body></html>
